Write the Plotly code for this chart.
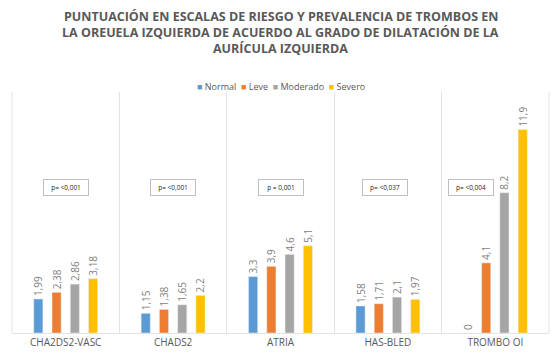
import plotly.graph_objects as go

categories = ["CHA2DS2-VASC", "CHADS2", "ATRIA", "HAS-BLED", "TROMBO OI"]
normal = [1.99, 1.15, 3.3, 1.58, 0]
leve = [2.38, 1.38, 3.9, 1.71, 4.1]
moderado = [2.86, 1.65, 4.6, 2.1, 8.2]
severo = [3.18, 2.2, 5.1, 1.97, 11.9]
p_values = ["p= <0,001", "p= <0,001", "p = 0,001", "p= <0,037", "p= <0,004"]
title_lines = ["PUNTUACIÓN EN ESCALAS DE RIESGO Y PREVALENCIA DE TROMBOS EN",
               "LA OREUELA IZQUIERDA DE ACUERDO AL GRADO DE DILATACIÓN DE LA",
               "AURÍCULA IZQUIERDA"]

series = [("Normal", normal, "#5B9BD5"), ("Leve", leve, "#ED7D31"),
          ("Moderado", moderado, "#A5A5A5"), ("Severo", severo, "#FFC000")]

def fmt(v):
    return f"{v:g}".replace(".", ",")

W, H = 552, 348
ML, MR, MT, MB = 4, 11, 84, 23
PH = H - MT - MB
LINE = "#E3E3E3"

fig = go.Figure()
for name, vals, color in series:
    fig.add_trace(go.Bar(
        x=categories, y=vals, name=name, marker_color=color,
        text=[fmt(v) for v in vals], textposition="outside", textangle=-90,
        constraintext="none",
        textfont=dict(size=10, color="#7F7F7F", family="Open Sans"),
        cliponaxis=False, showlegend=False,
    ))

shifts = [0, 0, 0, -3, -24]
for cat, p, s in zip(categories, p_values, shifts):
    fig.add_annotation(x=cat, y=8.5, xref="x", yref="y", text=p, showarrow=False,
                       xshift=s, width=42, height=13,
                       font=dict(size=6.5, color="#262626", family="Open Sans"),
                       bordercolor="#BFBFBF", borderwidth=1, borderpad=1, bgcolor="white")

# title (one annotation per line)
for i, line in enumerate(title_lines):
    fig.add_annotation(
        text=f"<b>{line}</b>", xref="paper", yref="paper", x=0.5, xanchor="center",
        y=1 + (MT - 8 - 16.5 * i) / PH, yanchor="middle",
        showarrow=False, font=dict(size=12.5, color="#595959", family="Open Sans"))

# legend
legend_html = "&nbsp;&nbsp;".join(
    f"<span style='color:{c}'>■</span>&nbsp;{n}" for n, _, c in series)
fig.add_annotation(text=legend_html, xref="paper", yref="paper", x=0.5, xanchor="center",
                   y=1 + 6 / PH, yanchor="middle", showarrow=False,
                   font=dict(size=9, color="#595959", family="Open Sans"))

# outer vertical frame lines (left and right only)
for xp in (0, 1):
    fig.add_shape(type="line", xref="paper", yref="paper", x0=xp, x1=xp, y0=0, y1=1,
                  line=dict(color=LINE, width=1), layer="below")

fig.update_layout(
    width=W, height=H,
    margin=dict(l=ML, r=MR, t=MT, b=MB, autoexpand=False),
    paper_bgcolor="white", plot_bgcolor="white",
    barmode="group", bargap=0.32, bargroupgap=0.5,
    showlegend=False,
    xaxis=dict(type="category", tickson="boundaries", showgrid=True, gridcolor=LINE,
               showline=True, mirror=False, linecolor=LINE, ticks="", automargin=False,
               tickfont=dict(size=10, color="#595959", family="Open Sans")),
    yaxis=dict(range=[0, 14.1], visible=False, showgrid=False, zeroline=False,
               automargin=False),
    font=dict(family="Open Sans"),
)

fig.write_html("out.html")
